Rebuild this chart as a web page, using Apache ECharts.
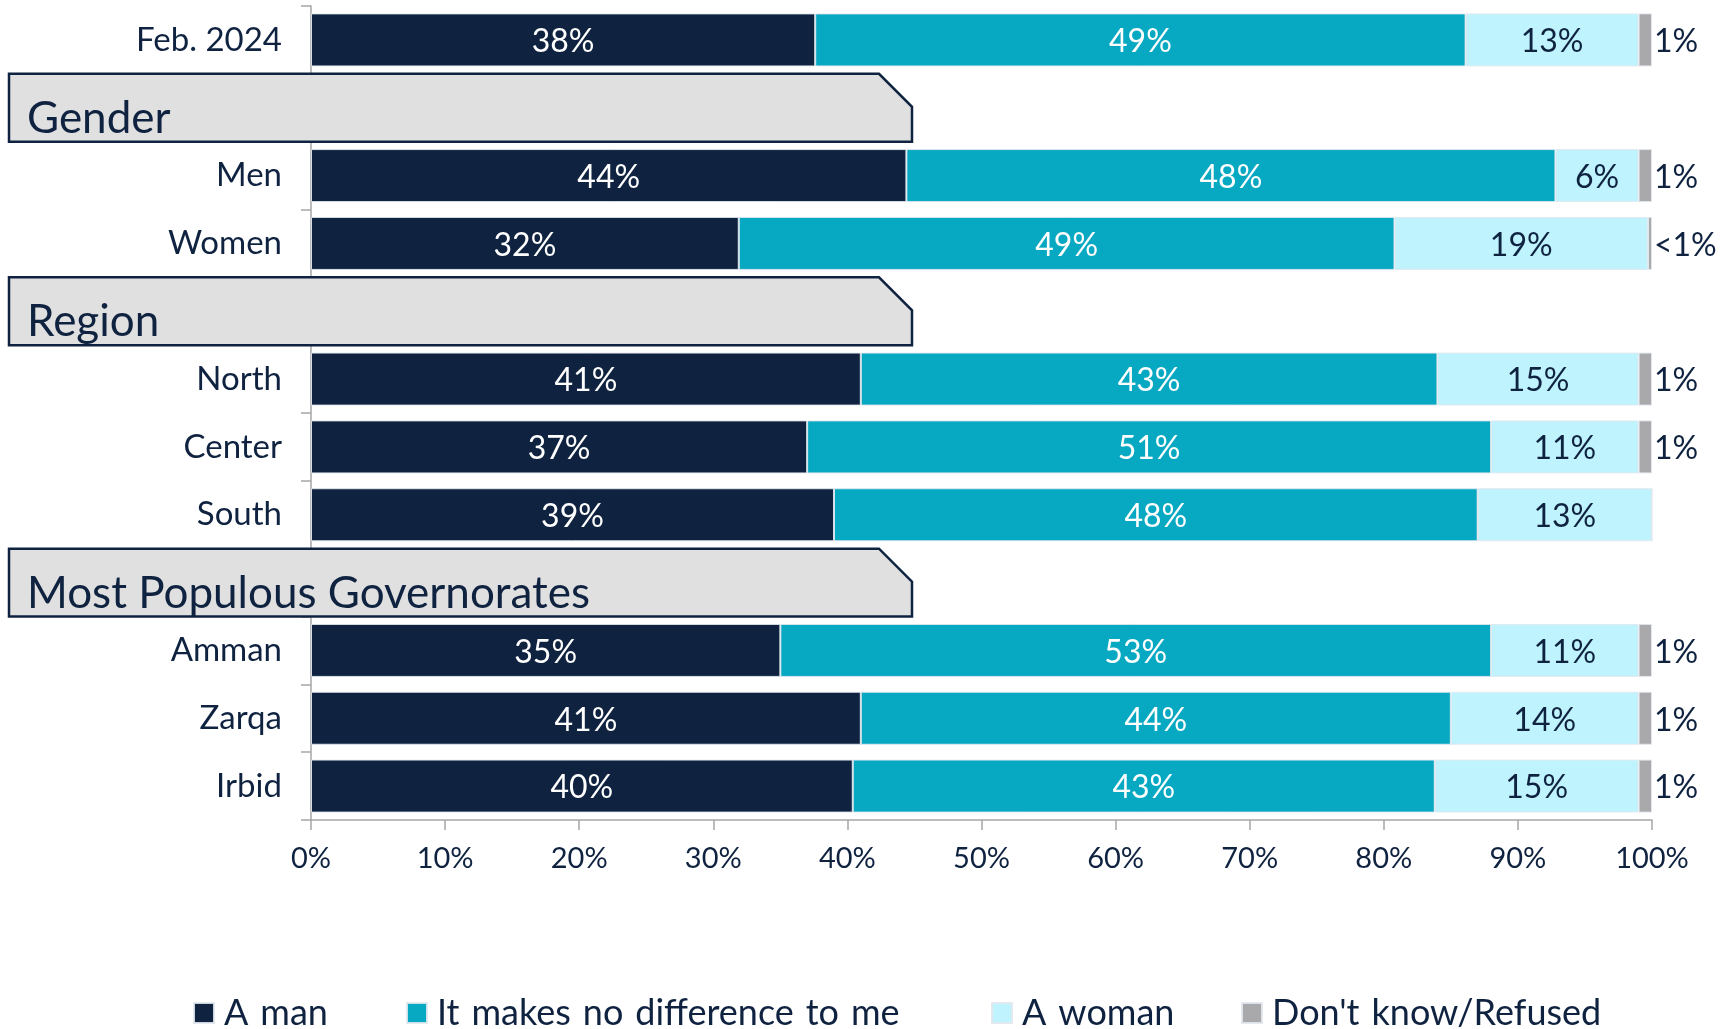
<!DOCTYPE html>
<html>
<head>
<meta charset="utf-8">
<title>Preferred gender of leader</title>
<script src="https://cdn.jsdelivr.net/npm/echarts@6/dist/echarts.min.js"></script>
<style>
  html, body { margin: 0; padding: 0; background: #ffffff; }
  #chart { width: 1723px; height: 1029px; }
</style>
</head>
<body>
<div id="chart"></div>
<script>
// Rows of the chart, top to bottom; section headings share the same axis slots.
const categories = ['Feb. 2024', 'Gender', 'Men', 'Women', 'Region', 'North', 'Center', 'South',
  'Most Populous Governorates', 'Amman', 'Zarqa', 'Irbid'];
const headings = ['Gender', 'Region', 'Most Populous Governorates'];

const seriesNames = ['A man', 'It makes no difference to me', 'A woman', "Don't know/Refused"];

// Shares in percent (null on heading rows)
const aMan       = [37.6, null, 44.4, 31.9, null, 41.0, 37.0, 39.0, null, 35.0, 41.0, 40.4];
const noDiff     = [48.5, null, 48.4, 48.9, null, 43.0, 51.0, 48.0, null, 53.0, 44.0, 43.4];
const aWoman     = [12.9, null, 6.2, 18.9, null, 15.0, 11.0, 13.0, null, 11.0, 14.0, 15.2];
const dontKnow   = [1.0, null, 1.0, 0.3, null, 1.0, 1.0, 0, null, 1.0, 1.0, 1.0];

const xTicks = [0, 10, 20, 30, 40, 50, 60, 70, 80, 90, 100];

const NAVY = '#0f2340';
const colors = ['#0f2340', '#07a8c1', '#bff3fd', '#a9a9ab'];
const FONT = 'Lato';

function pctLabel(v) {
  if (v == null || v === 0) return '';
  if (v < 0.5) return '<1%';
  return Math.round(v) + '%';
}

const chart = echarts.init(document.getElementById('chart'), null, { renderer: 'canvas' });

function barSeries(name, values, idx, labelOpt) {
  return {
    name: name,
    type: 'bar',
    stack: 'total',
    barWidth: 53,
    data: values,
    itemStyle: { color: colors[idx], borderColor: 'rgba(225,232,238,0.9)', borderWidth: 1 },
    label: Object.assign({
      show: true,
      fontFamily: FONT,
      offset: [0, 2],
      formatter: p => pctLabel(p.value)
    }, labelOpt),
    emphasis: { disabled: true },
    silent: true
  };
}

// One legend block per entry so each swatch sits at its own spot along the bottom
const legendLeft = [193, 406, 991, 1241];
const legends = seriesNames.map((name, i) => ({
  data: [name],
  left: legendLeft[i],
  top: 995,
  padding: 0,
  icon: 'rect',
  itemWidth: 20,
  itemHeight: 20,
  selectedMode: false,
  formatter: n => n.replace(/ /g, '\u2004'),
  textStyle: { fontFamily: FONT, fontSize: 36, color: NAVY, padding: [0, 0, 0, 5] }
}));

// Heading bands: grey tabs with a clipped top-right corner, one axis slot tall
const BAND_LEFT = 9, BAND_RIGHT = 912, CHAMFER = 33;
const headingData = headings.map(h => [0, categories.indexOf(h)]);

const option = {
  animation: false,
  backgroundColor: '#ffffff',
  grid: { left: 311, right: 71, top: 6, bottom: 209, outerBoundsMode: 'none' },
  legend: legends,
  xAxis: {
    type: 'value',
    min: 0,
    max: 100,
    interval: 10,
    axisLine: { show: true, lineStyle: { color: '#a6a6a6', width: 1.5 } },
    axisTick: { show: true, length: 10, lineStyle: { color: '#a6a6a6', width: 1.5 } },
    splitLine: { show: false },
    axisLabel: {
      margin: 24,
      fontFamily: FONT,
      fontSize: 29,
      color: NAVY,
      formatter: v => (xTicks.indexOf(v) >= 0 ? v + '%' : '')
    }
  },
  yAxis: {
    type: 'category',
    inverse: true,
    data: categories,
    axisLine: { show: true, lineStyle: { color: '#a6a6a6', width: 1.5 } },
    axisTick: { show: true, length: 10, interval: 0, lineStyle: { color: '#a6a6a6', width: 1.5 } },
    axisLabel: {
      margin: 29,
      interval: 0,
      fontFamily: FONT,
      fontSize: 33,
      color: NAVY,
      padding: [6, 0, 0, 0],
      formatter: v => (headings.indexOf(v) >= 0 ? '' : v)
    }
  },
  series: [
    barSeries(seriesNames[0], aMan, 0, { position: 'inside', color: '#ffffff', fontSize: 32 }),
    barSeries(seriesNames[1], noDiff, 1, { position: 'inside', color: '#ffffff', fontSize: 32 }),
    barSeries(seriesNames[2], aWoman, 2, { position: 'inside', color: NAVY, fontSize: 32 }),
    barSeries(seriesNames[3], dontKnow, 3, { position: 'right', distance: 2, color: NAVY, fontSize: 32 }),
    {
      type: 'custom',
      name: 'headings',
      data: headingData,
      encode: { x: 0, y: 1 },
      z: 10,
      silent: true,
      clip: false,
      renderItem: function (params, api) {
        const c = api.coord([0, api.value(1)]);
        const h = api.size([0, 1])[1];
        const top = c[1] - h / 2;
        const bottom = c[1] + h / 2;
        return {
          type: 'group',
          children: [
            {
              type: 'polygon',
              shape: {
                points: [
                  [BAND_LEFT, top],
                  [BAND_RIGHT - CHAMFER, top],
                  [BAND_RIGHT, top + CHAMFER],
                  [BAND_RIGHT, bottom],
                  [BAND_LEFT, bottom]
                ]
              },
              style: { fill: '#e0e0e0', stroke: NAVY, lineWidth: 2.5 }
            },
            {
              type: 'text',
              style: {
                text: headings[params.dataIndex],
                x: BAND_LEFT + 18,
                y: c[1] + 11,
                align: 'left',
                verticalAlign: 'middle',
                fontFamily: FONT,
                fontSize: 44,
                fill: NAVY
              }
            }
          ]
        };
      }
    }
  ]
};

chart.setOption(option);
</script>
</body>
</html>
